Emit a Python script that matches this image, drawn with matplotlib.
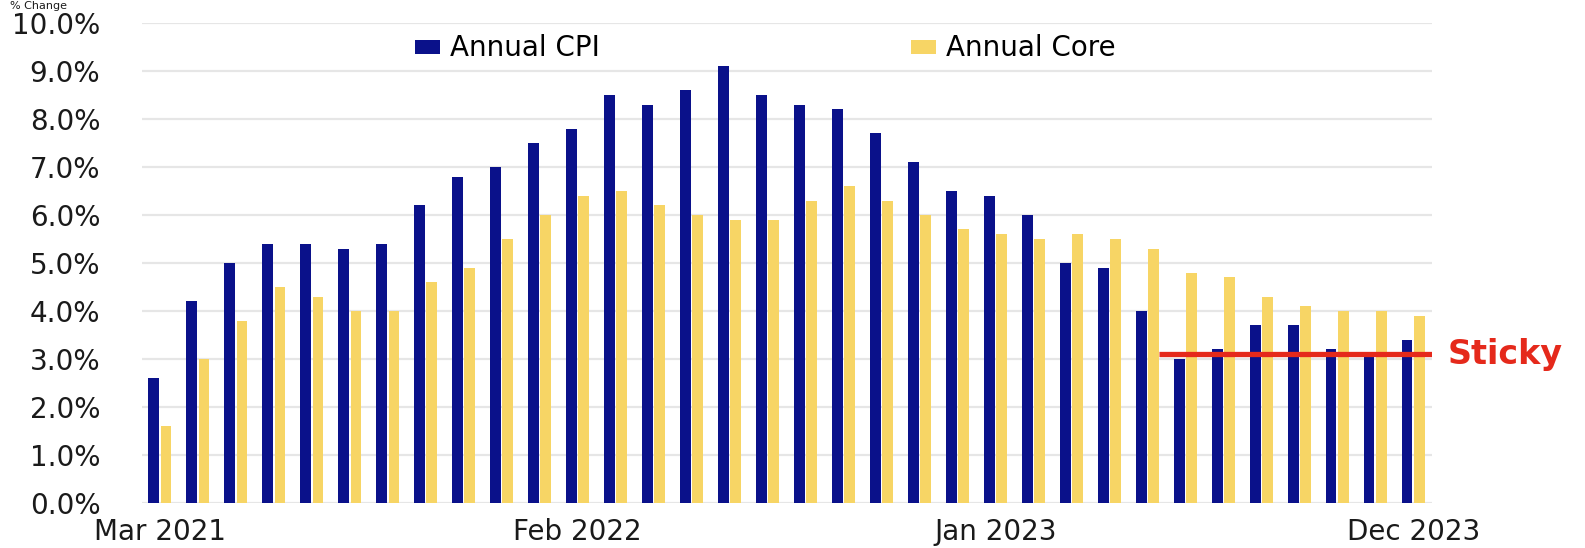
import matplotlib
matplotlib.use("Agg")
import matplotlib.pyplot as plt
import numpy as np

MONTHS = ["Mar 2021", "Apr 2021", "May 2021", "Jun 2021", "Jul 2021", "Aug 2021",
          "Sep 2021", "Oct 2021", "Nov 2021", "Dec 2021", "Jan 2022", "Feb 2022",
          "Mar 2022", "Apr 2022", "May 2022", "Jun 2022", "Jul 2022", "Aug 2022",
          "Sep 2022", "Oct 2022", "Nov 2022", "Dec 2022", "Jan 2023", "Feb 2023",
          "Mar 2023", "Apr 2023", "May 2023", "Jun 2023", "Jul 2023", "Aug 2023",
          "Sep 2023", "Oct 2023", "Nov 2023", "Dec 2023"]
ANNUAL_CPI = [2.6, 4.2, 5.0, 5.4, 5.4, 5.3, 5.4, 6.2, 6.8, 7.0, 7.5, 7.8,
              8.5, 8.3, 8.6, 9.1, 8.5, 8.3, 8.2, 7.7, 7.1, 6.5, 6.4, 6.0,
              5.0, 4.9, 4.0, 3.0, 3.2, 3.7, 3.7, 3.2, 3.1, 3.4]
ANNUAL_CORE = [1.6, 3.0, 3.8, 4.5, 4.3, 4.0, 4.0, 4.6, 4.9, 5.5, 6.0, 6.4,
               6.5, 6.2, 6.0, 5.9, 5.9, 6.3, 6.6, 6.3, 6.0, 5.7, 5.6, 5.5,
               5.6, 5.5, 5.3, 4.8, 4.7, 4.3, 4.1, 4.0, 4.0, 3.9]
TICK_MONTHS = ["Mar 2021", "Feb 2022", "Jan 2023", "Dec 2023"]
STICKY_LEVEL = 3.1
STICKY_FROM = "Jun 2023"

NAVY = "#0a118a"
GOLD = "#f7d565"
RED = "#e5291b"
TXT = "#1a1a1a"

fig = plt.figure(figsize=(15.85, 5.48), dpi=100)
ax = fig.add_axes([0.0896, 0.082, 0.814, 0.876])

x = np.arange(len(MONTHS))
ax.bar(x - 0.16, ANNUAL_CPI, width=0.28, color=NAVY, label="Annual CPI", zorder=2)
ax.bar(x + 0.16, ANNUAL_CORE, width=0.28, color=GOLD, label="Annual Core", zorder=2)

ax.set_xlim(-0.47, len(MONTHS) - 0.5)
ax.set_ylim(0, 10)
yt = np.arange(0, 10.01, 1.0)
ax.set_yticks(yt)
ax.set_yticklabels([f"{v:.1f}%" for v in yt])
ax.set_xticks([MONTHS.index(m) for m in TICK_MONTHS])
ax.set_xticklabels(TICK_MONTHS)
ax.tick_params(length=0, labelsize=20, colors=TXT)
ax.tick_params(axis="y", pad=30)
ax.tick_params(axis="x", pad=11)
ax.grid(axis="y", color="#e6e6e6", lw=1.6, zorder=0)
for s in ax.spines.values():
    s.set_visible(False)

# "sticky" inflation marker
x0 = MONTHS.index(STICKY_FROM) - 0.7
ax.hlines(STICKY_LEVEL, x0, len(MONTHS) - 0.5, color=RED, lw=3.8, zorder=3)
ax.text(len(MONTHS) - 0.1, STICKY_LEVEL, "Sticky", color=RED, fontsize=24,
        fontweight="bold", va="center", ha="left", clip_on=False)

ax.legend(loc="center left", bbox_to_anchor=(0.2116, 0.947), ncol=2, frameon=False,
          fontsize=20, handlelength=0.9, handleheight=0.4, handletextpad=0.36,
          columnspacing=11.2, borderpad=0, borderaxespad=0)

fig.text(0.006, 0.999, "% Change", fontsize=8, color=TXT, va="top", ha="left")

fig.savefig("out.png", dpi=100)
